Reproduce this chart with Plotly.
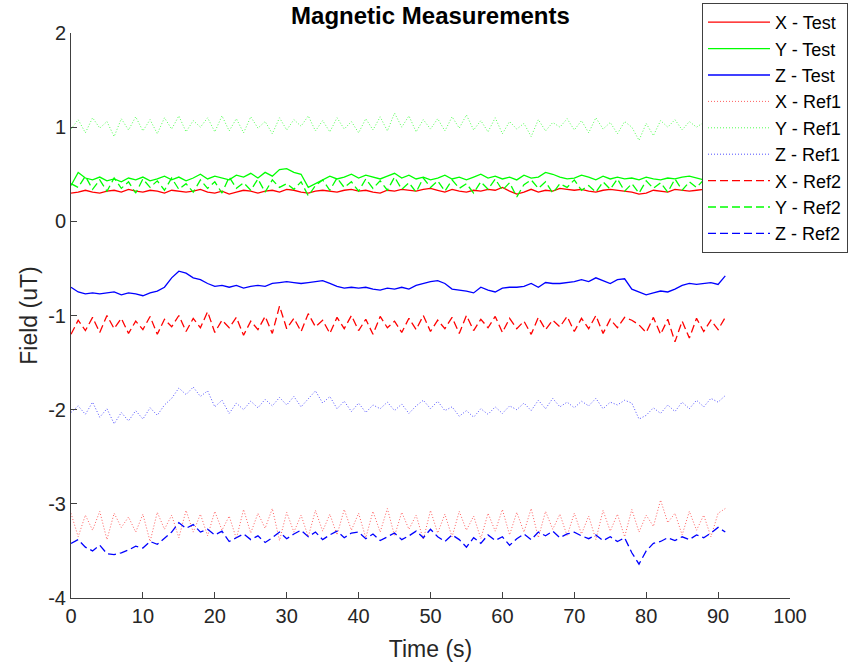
import plotly.graph_objects as go

time_s = list(range(92))

x_test = [0.30,0.31,0.33,0.31,0.30,0.32,0.33,0.31,0.34,0.32,
          0.31,0.33,0.32,0.30,0.33,0.32,0.31,0.32,0.34,0.31,
          0.30,0.32,0.29,0.31,0.33,0.32,0.30,0.32,0.33,0.31,
          0.34,0.33,0.31,0.30,0.32,0.33,0.32,0.31,0.33,0.34,
          0.32,0.33,0.31,0.30,0.33,0.32,0.34,0.33,0.32,0.34,
          0.35,0.33,0.31,0.34,0.32,0.31,0.33,0.32,0.34,0.33,
          0.36,0.32,0.29,0.31,0.34,0.31,0.33,0.32,0.35,0.34,
          0.33,0.34,0.32,0.31,0.33,0.34,0.33,0.32,0.31,0.29,
          0.30,0.33,0.32,0.31,0.34,0.33,0.32,0.33,0.34,0.33,
          0.32,0.33]

y_test = [0.38,0.52,0.46,0.44,0.47,0.43,0.45,0.42,0.46,0.44,
          0.47,0.43,0.45,0.48,0.44,0.47,0.43,0.46,0.50,0.45,
          0.48,0.46,0.44,0.49,0.47,0.51,0.46,0.52,0.48,0.55,
          0.56,0.52,0.50,0.36,0.40,0.44,0.48,0.45,0.47,0.50,
          0.46,0.49,0.47,0.45,0.48,0.51,0.46,0.49,0.45,0.47,
          0.44,0.46,0.49,0.45,0.47,0.44,0.47,0.50,0.46,0.48,
          0.45,0.47,0.44,0.49,0.46,0.47,0.52,0.50,0.47,0.45,
          0.46,0.49,0.47,0.44,0.48,0.45,0.47,0.45,0.46,0.44,
          0.47,0.45,0.44,0.46,0.45,0.47,0.48,0.46,0.44,0.47,
          0.45,0.46]

z_test = [-0.70,-0.75,-0.77,-0.76,-0.77,-0.76,-0.75,-0.78,-0.76,-0.77,
          -0.79,-0.76,-0.74,-0.70,-0.60,-0.53,-0.55,-0.60,-0.62,-0.66,
          -0.69,-0.68,-0.70,-0.68,-0.71,-0.69,-0.68,-0.69,-0.66,-0.65,
          -0.64,-0.65,-0.66,-0.65,-0.64,-0.63,-0.66,-0.69,-0.71,-0.70,
          -0.71,-0.70,-0.72,-0.73,-0.71,-0.72,-0.70,-0.72,-0.68,-0.66,
          -0.64,-0.63,-0.66,-0.72,-0.73,-0.74,-0.76,-0.70,-0.73,-0.75,
          -0.71,-0.70,-0.70,-0.69,-0.66,-0.70,-0.65,-0.66,-0.66,-0.65,
          -0.64,-0.62,-0.64,-0.60,-0.63,-0.66,-0.62,-0.61,-0.72,-0.75,
          -0.78,-0.76,-0.74,-0.75,-0.72,-0.68,-0.66,-0.67,-0.66,-0.65,
          -0.67,-0.58]

x_ref1 = [-3.10,-3.35,-3.12,-3.28,-3.08,-3.38,-3.10,-3.25,-3.14,-3.30,
          -3.11,-3.40,-3.09,-3.27,-3.12,-3.36,-3.07,-3.30,-3.11,-3.34,
          -3.08,-3.28,-3.13,-3.37,-3.06,-3.31,-3.10,-3.26,-3.05,-3.39,
          -3.09,-3.30,-3.12,-3.35,-3.07,-3.29,-3.11,-3.33,-3.06,-3.28,
          -3.10,-3.36,-3.08,-3.30,-3.05,-3.34,-3.09,-3.27,-3.12,-3.38,
          -3.07,-3.31,-3.11,-3.35,-3.08,-3.28,-3.13,-3.37,-3.10,-3.29,
          -3.06,-3.33,-3.09,-3.30,-3.05,-3.36,-3.08,-3.27,-3.11,-3.34,
          -3.10,-3.32,-3.13,-3.38,-3.07,-3.29,-3.11,-3.35,-3.06,-3.30,
          -3.12,-3.24,-2.96,-3.20,-3.10,-3.33,-3.08,-3.28,-3.12,-3.35,
          -3.10,-3.05]

y_ref1 = [0.98,1.08,0.94,1.10,0.99,1.06,0.90,1.09,0.97,1.11,
          0.96,1.08,0.93,1.10,0.98,1.12,0.95,1.07,1.00,1.10,
          0.95,1.12,0.96,1.09,0.94,1.11,0.99,1.06,0.93,1.10,
          0.97,1.08,1.01,1.12,0.96,1.07,0.95,1.10,0.98,1.06,
          0.94,1.09,0.97,1.11,0.96,1.15,1.00,1.12,0.95,1.08,
          0.98,1.09,0.96,1.11,0.99,1.13,0.97,1.07,0.95,1.10,
          0.93,1.06,0.98,1.04,0.90,1.08,0.96,1.05,1.00,1.09,
          0.97,1.07,0.94,1.10,0.98,1.05,0.93,1.06,1.00,0.86,
          1.04,0.91,1.07,1.00,1.08,0.97,1.06,1.00,1.05,0.97,
          1.03,0.96]

z_ref1 = [-2.03,-1.96,-2.05,-1.92,-2.08,-1.99,-2.15,-2.03,-2.12,-2.01,
          -2.10,-1.98,-2.06,-1.95,-1.88,-1.77,-1.84,-1.76,-1.86,-1.80,
          -1.97,-1.90,-2.04,-1.93,-2.00,-1.91,-1.98,-1.89,-1.96,-1.87,
          -1.95,-1.86,-1.97,-1.88,-1.80,-1.93,-1.86,-1.99,-1.91,-2.02,
          -1.93,-2.03,-1.95,-1.99,-1.92,-2.01,-1.94,-2.04,-1.96,-1.90,
          -1.99,-1.91,-2.01,-1.97,-2.07,-2.01,-2.08,-1.99,-2.05,-1.97,
          -2.04,-1.96,-2.00,-1.93,-2.01,-1.90,-1.99,-1.88,-1.97,-1.92,
          -1.98,-1.91,-1.96,-1.88,-1.99,-1.92,-1.95,-1.90,-1.93,-2.10,
          -2.06,-1.98,-2.04,-1.95,-2.02,-1.92,-1.99,-1.90,-1.97,-1.88,
          -1.92,-1.85]

x_ref2 = [-1.20,-1.05,-1.16,-1.02,-1.18,-1.00,-1.14,-1.03,-1.19,-1.06,
          -1.15,-1.01,-1.20,-1.04,-1.12,-1.00,-1.17,-1.03,-1.13,-0.96,
          -1.18,-1.05,-1.13,-1.02,-1.21,-1.06,-1.15,-1.01,-1.19,-0.90,
          -1.14,-1.03,-1.17,-0.98,-1.12,-1.05,-1.19,-1.02,-1.14,-1.00,
          -1.16,-1.04,-1.20,-1.01,-1.13,-1.06,-1.18,-1.03,-1.15,-1.00,
          -1.17,-1.05,-1.14,-1.02,-1.19,-1.00,-1.16,-1.04,-1.13,-1.01,
          -1.18,-1.03,-1.14,-1.06,-1.20,-1.02,-1.15,-1.05,-1.12,-1.01,
          -1.17,-1.03,-1.14,-1.00,-1.19,-1.04,-1.13,-1.02,-1.05,-1.10,
          -1.18,-1.02,-1.20,-1.04,-1.28,-1.06,-1.24,-1.03,-1.17,-1.05,
          -1.15,-1.02]

y_ref2 = [0.40,0.36,0.48,0.34,0.44,0.32,0.46,0.35,0.42,0.30,
          0.45,0.36,0.43,0.33,0.46,0.34,0.40,0.31,0.44,0.35,
          0.42,0.30,0.47,0.35,0.41,0.33,0.45,0.31,0.44,0.36,
          0.40,0.34,0.42,0.27,0.38,0.44,0.33,0.46,0.36,0.42,
          0.32,0.45,0.35,0.43,0.33,0.47,0.34,0.41,0.31,0.46,
          0.36,0.43,0.32,0.44,0.35,0.40,0.30,0.42,0.34,0.45,
          0.33,0.41,0.26,0.39,0.44,0.35,0.42,0.30,0.40,0.36,
          0.44,0.33,0.38,0.31,0.42,0.34,0.45,0.32,0.40,0.30,
          0.43,0.35,0.41,0.31,0.45,0.33,0.42,0.36,0.44,0.32,
          0.41,0.38]

z_ref2 = [-3.42,-3.38,-3.46,-3.50,-3.44,-3.53,-3.54,-3.52,-3.49,-3.45,
          -3.47,-3.40,-3.43,-3.37,-3.30,-3.20,-3.26,-3.22,-3.30,-3.27,
          -3.33,-3.29,-3.40,-3.36,-3.32,-3.38,-3.34,-3.41,-3.36,-3.30,
          -3.37,-3.32,-3.28,-3.35,-3.30,-3.38,-3.33,-3.29,-3.36,-3.31,
          -3.30,-3.37,-3.32,-3.39,-3.35,-3.31,-3.38,-3.34,-3.29,-3.36,
          -3.27,-3.35,-3.40,-3.33,-3.38,-3.46,-3.36,-3.42,-3.33,-3.39,
          -3.35,-3.44,-3.37,-3.32,-3.38,-3.30,-3.34,-3.29,-3.36,-3.32,
          -3.30,-3.34,-3.37,-3.33,-3.39,-3.35,-3.40,-3.36,-3.52,-3.64,
          -3.50,-3.42,-3.40,-3.36,-3.39,-3.35,-3.38,-3.33,-3.36,-3.31,
          -3.25,-3.30]

x_ticks = list(range(0, 101, 10))
y_ticks = [-4, -3, -2, -1, 0, 1, 2]
y_tick_labels = ["-4", "-3", "-2", "-1", "0", "1", "2"]

series = [
    ("X - Test", x_test, "#FF0000", "solid", 1.3),
    ("Y - Test", y_test, "#00FF00", "solid", 1.3),
    ("Z - Test", z_test, "#0000FF", "solid", 1.3),
    ("X - Ref1", x_ref1, "#FF6060", "1px,2px", 1.0),
    ("Y - Ref1", y_ref1, "#50FF50", "1px,2px", 1.0),
    ("Z - Ref1", z_ref1, "#5050FF", "1px,2px", 1.0),
    ("X - Ref2", x_ref2, "#FF0000", "8px,4px", 1.3),
    ("Y - Ref2", y_ref2, "#00FF00", "8px,4px", 1.3),
    ("Z - Ref2", z_ref2, "#0000FF", "8px,4px", 1.3),
]

fig = go.Figure()
for name, vals, color, dash, w in series:
    fig.add_trace(go.Scatter(x=time_s, y=vals, mode="lines", name=name,
                             line=dict(color=color, dash=dash, width=w)))

font_family = "Liberation Sans, Arial, sans-serif"
axis_common = dict(showline=True, linecolor="#404040", linewidth=1,
                   ticks="inside", ticklen=6, tickcolor="#404040",
                   showgrid=False, zeroline=False, mirror=False,
                   tickfont=dict(size=20, color="#262626", family=font_family))

fig.update_layout(
    width=854, height=665,
    margin=dict(l=71, r=64, t=33, b=67, autoexpand=False),
    paper_bgcolor="white", plot_bgcolor="white",
    title=dict(text="<b>Magnetic Measurements</b>", x=(71 + 790) / 2 / 854,
               xanchor="center", y=1 - 16 / 665, yanchor="middle",
               font=dict(size=24, color="black", family=font_family)),
    xaxis=dict(range=[0, 100], tickvals=x_ticks,
               title=dict(text="Time (s)", font=dict(size=23, color="#262626", family=font_family), standoff=14),
               **axis_common),
    yaxis=dict(range=[-4, 2], tickvals=y_ticks, ticktext=y_tick_labels,
               title=dict(text="Field (uT)", font=dict(size=23, color="#262626", family=font_family), standoff=4),
               **axis_common),
    legend=dict(xref="container", yref="container", x=702 / 854, y=1 - 3 / 665,
                xanchor="left", yanchor="top",
                bgcolor="white", bordercolor="#404040", borderwidth=1,
                font=dict(size=18, color="black", family=font_family),
                tracegroupgap=0, itemwidth=62),
    showlegend=True,
)

fig.write_html("out.html")
